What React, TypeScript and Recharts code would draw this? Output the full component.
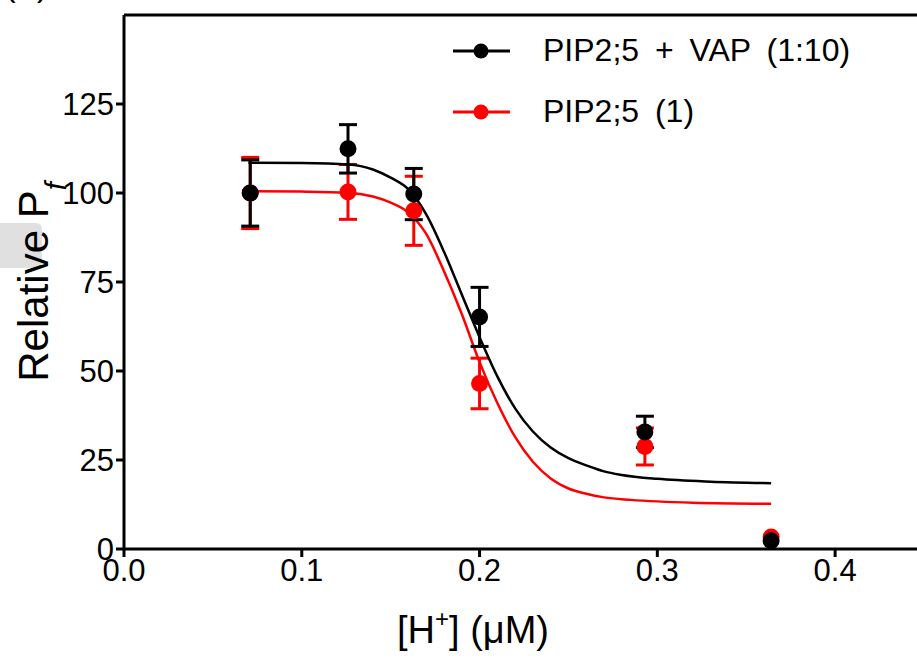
import {
  ComposedChart,
  ErrorBar,
  Line,
  ReferenceLine,
  Scatter,
  XAxis,
  YAxis,
} from "recharts";

const FONT = '"Liberation Sans", Arial, sans-serif';

// measured points: [H+] (uM), mean relative Pf, error
const hConc = [0.071, 0.126, 0.163, 0.2, 0.293, 0.364];
const vapMean = [100, 112.4, 99.7, 65.2, 32.9, 2.3];
const vapErr = [9.3, 6.8, 7.2, 8.3, 4.4, 0];
const pipMean = [100, 100.3, 95, 46.5, 28.8, 3.4];
const pipErr = [10, 7.7, 9.7, 7.1, 5.2, 0];

// fitted curves
const vapFitX = [0.07, 0.1, 0.126, 0.14, 0.15, 0.16, 0.17, 0.18, 0.19, 0.2, 0.21, 0.22, 0.23, 0.24, 0.25, 0.26, 0.27, 0.28, 0.3, 0.33, 0.364];
const vapFitY = [108.5, 108.4, 108.0, 106.6, 104.3, 101.0, 94.0, 83.5, 71.5, 59.5, 48.5, 39.5, 33.0, 28.5, 25.5, 23.5, 21.8, 20.8, 19.7, 18.9, 18.5];
const pipFitX = [0.07, 0.1, 0.126, 0.14, 0.15, 0.16, 0.17, 0.18, 0.19, 0.2, 0.21, 0.22, 0.23, 0.24, 0.25, 0.26, 0.27, 0.285, 0.32, 0.364];
const pipFitY = [100.5, 100.4, 100.1, 99.0, 97.3, 94.5, 88.5, 78.0, 66.0, 52.5, 41.0, 31.5, 24.5, 19.8, 17.0, 15.5, 14.5, 13.8, 13.0, 12.7];

const xTicks = [0, 0.1, 0.2, 0.3, 0.4];
const yTicks = [0, 25, 50, 75, 100, 125];

const legendItems = [
  { name: "PIP2;5 + VAP (1:10)", color: "#000000" },
  { name: "PIP2;5 (1)", color: "#ff0000" },
];

const toPoints = (xs: number[], ys: number[], errs?: number[]) =>
  xs.map((x, i) => ({ x, y: ys[i], err: errs ? errs[i] : 0 }));

const vapPoints = toPoints(hConc, vapMean, vapErr);
const pipPoints = toPoints(hConc, pipMean, pipErr);
const vapFit = toPoints(vapFitX, vapFitY);
const pipFit = toPoints(pipFitX, pipFitY);

const dot = (color: string) => (p: any) =>
  <circle cx={p.cx} cy={p.cy} r={8.5} fill={color} />;

const tickStyle = { fill: "#000", fontSize: 31, fontFamily: FONT };

// legend drawn outside the chart so it doesn't eat plot height
function LegendBox() {
  return (
    <div
      style={{
        position: "absolute",
        left: 451,
        top: 20,
        fontFamily: FONT,
        fontSize: 32,
        wordSpacing: 7,
        color: "#000",
      }}
    >
      {legendItems.map((it) => (
        <div
          key={it.name}
          style={{ display: "flex", alignItems: "center", height: 61 }}
        >
          <svg width={60} height={20} style={{ marginRight: 32 }}>
            <line x1={2} y1={10} x2={59} y2={10} stroke={it.color} strokeWidth={3} />
            <circle cx={30} cy={10} r={7.5} fill={it.color} />
          </svg>
          <span>{it.name}</span>
        </div>
      ))}
    </div>
  );
}

export default function App() {
  return (
    <div
      style={{
        position: "absolute",
        left: 0,
        top: 0,
        width: 917,
        height: 661,
        overflow: "hidden",
        background: "#fff",
      }}
    >
      <div
        style={{
          position: "absolute",
          left: 0,
          top: 223,
          width: 42,
          height: 45,
          background: "#e0e0e0",
          borderTopRightRadius: 6,
        }}
      />
      <div
        style={{
          position: "absolute",
          left: 5,
          top: -31,
          fontFamily: FONT,
          fontSize: 32,
          lineHeight: "32px",
        }}
      >
        (A)
      </div>
      <div style={{ position: "absolute", left: 0, top: 0 }}>
        <ComposedChart
          width={940}
          height={661}
          margin={{ top: 15, right: 16, bottom: 0, left: 0 }}
        >
          <XAxis
            type="number"
            dataKey="x"
            domain={[0, 0.45]}
            ticks={xTicks}
            tickFormatter={(v: number) => v.toFixed(1)}
            allowDataOverflow
            height={112}
            stroke="#000"
            strokeWidth={3}
            tickSize={8}
            tick={tickStyle}
            label={{
              content: () => (
                <text
                  x={473}
                  y={643}
                  textAnchor="middle"
                  fontFamily={FONT}
                  fontSize={38}
                  fill="#000"
                >
                  [H
                  <tspan fontSize={24} dy={-16}>+</tspan>
                  <tspan dy={16}>] (μM)</tspan>
                </text>
              ),
            }}
          />
          <YAxis
            type="number"
            domain={[0, 150]}
            ticks={yTicks}
            width={124}
            stroke="#000"
            strokeWidth={3}
            tickSize={8}
            tick={tickStyle}
            label={{
              content: () => (
                <text
                  transform="translate(48, 282) rotate(-90)"
                  textAnchor="middle"
                  fontFamily={FONT}
                  fontSize={42}
                  fill="#000"
                >
                  Relative P
                  <tspan fontSize={29} fontStyle="italic" dy={18}>f</tspan>
                </text>
              ),
            }}
          />
          <ReferenceLine y={150} stroke="#000" strokeWidth={3} />
          <Line
            data={pipFit}
            dataKey="y"
            type="monotone"
            stroke="#ff0000"
            strokeWidth={2.5}
            dot={false}
            isAnimationActive={false}
          />
          <Scatter
            data={pipPoints}
            dataKey="y"
            fill="#ff0000"
            shape={dot("#ff0000")}
            isAnimationActive={false}
          >
            <ErrorBar dataKey="err" direction="y" width={9} stroke="#ff0000" strokeWidth={3} />
          </Scatter>
          <Line
            data={vapFit}
            dataKey="y"
            type="monotone"
            stroke="#000000"
            strokeWidth={2.5}
            dot={false}
            isAnimationActive={false}
          />
          <Scatter
            data={vapPoints}
            dataKey="y"
            fill="#000000"
            shape={dot("#000000")}
            isAnimationActive={false}
          >
            <ErrorBar dataKey="err" direction="y" width={9} stroke="#000000" strokeWidth={3} />
          </Scatter>
        </ComposedChart>
      </div>
      <LegendBox />
    </div>
  );
}
